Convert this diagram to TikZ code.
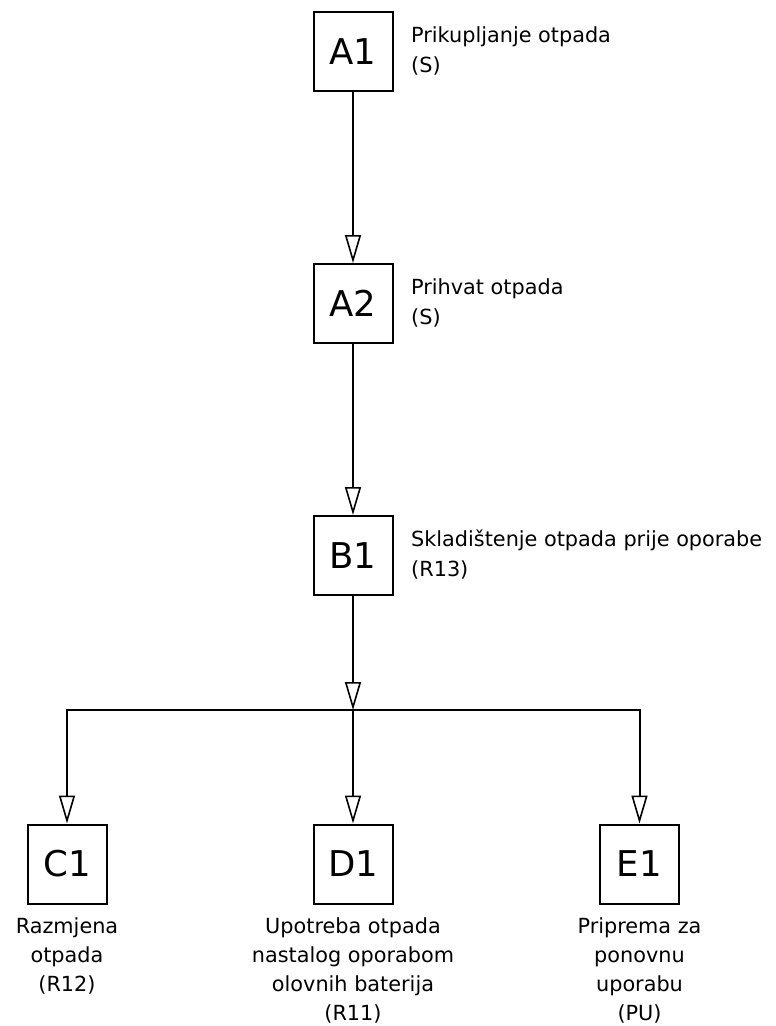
\documentclass[tikz,border=0pt]{standalone}
\usepackage{fontspec}
\setmainfont{DejaVu Sans}
\usetikzlibrary{arrows.meta}
\begin{document}
\begin{tikzpicture}[x=1pt,y=-1pt,
  box/.style={draw, line width=2pt, minimum width=79pt, minimum height=79pt, inner sep=0pt, font=\fontsize{35.5}{40}\selectfont},
  lab/.style={inner sep=0pt, font=\fontsize{20.8}{30}\selectfont, align=left, anchor=base west},
  blab/.style={inner sep=0pt, font=\fontsize{20.8}{29}\selectfont, align=center, anchor=base},
  arr/.style={line width=2pt, -{Triangle[open, length=28pt, width=16pt, line width=1.6pt]}}
]
\path[use as bounding box, fill=white] (0,0) rectangle (776,1026);
\node[box] (A1) at (353,51.5) {A1};
\node[box] (A2) at (353,303.5) {A2};
\node[box] (B1) at (353,555.5) {B1};
\node[box] (C1) at (67,864) {C1};
\node[box] (D1) at (353,864) {D1};
\node[box] (E1) at (639.5,864) {E1};
\coordinate (J) at (353,710);
\draw[arr] (A1) -- (A2);
\draw[arr] (A2) -- (B1);
\draw[arr] (B1) -- (J);
\draw[arr] (J) -| (C1);
\draw[arr] (J) -- (D1);
\draw[arr] (J) -| (E1);
\node[lab] (lA1) at (411,72) {Prikupljanje otpada\\(S)};
\node[lab] (lA2) at (411,324) {Prihvat otpada\\(S)};
\node[lab] (lB1) at (411,576) {Skladištenje otpada prije oporabe\\(R13)};
\node[blab] (lC1) at (67,991) {Razmjena\\otpada\\(R12)};
\node[blab] (lD1) at (353,1020) {Upotreba otpada\\nastalog oporabom\\olovnih baterija\\(R11)};
\node[blab] (lE1) at (639.5,1020) {Priprema za\\ponovnu\\uporabu\\(PU)};
\end{tikzpicture}
\end{document}
